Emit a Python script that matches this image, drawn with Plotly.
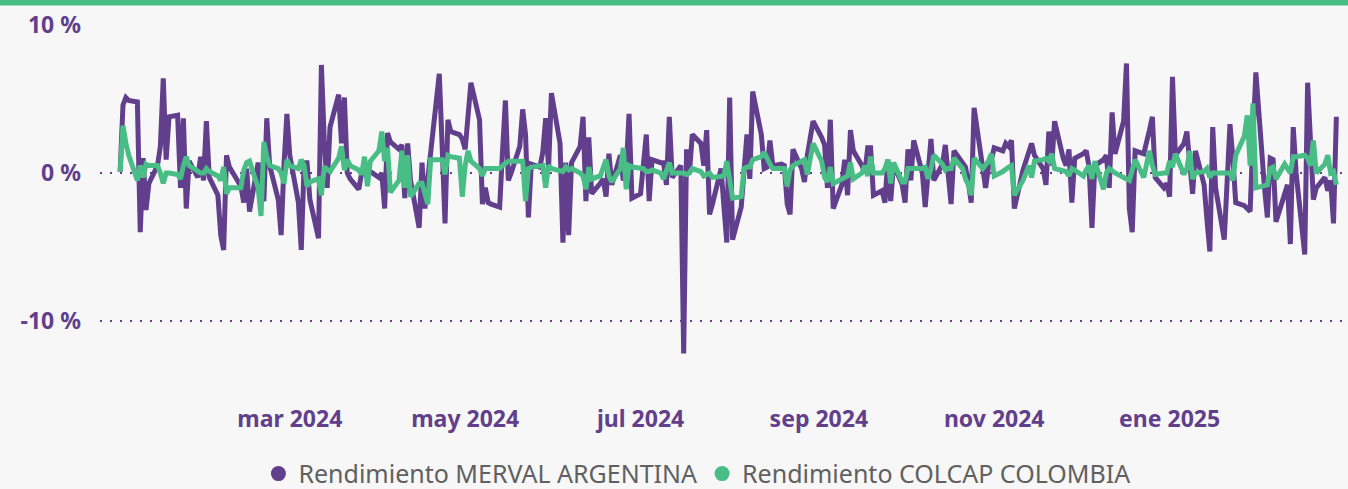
import pandas as pd
import plotly.graph_objects as go

PURPLE = "#613f8c"
GREEN = "#48bd85"
BG = "#f7f7f7"

dates = pd.bdate_range("2024-01-02", "2025-02-28")

merval = [
    0.1, 4.6, 5.1, 4.9, 4.8, -4.0, 1.0, -2.5, -0.7, 0.5,
    1.8, 6.4, 0.9, 3.8, 3.9, -1.0, 3.7, -2.4, 0.8, -0.3,
    1.1, -0.5, 3.5, -0.3, -1.5, -4.2, -5.2, 1.2, 0.4, -0.5,
    -0.9, -2.0, 0.3, -2.6, 0.7, -1.0, -1.9, 3.7, 0.5, -1.8,
    -4.2, 0.6, 4.0, 1.2, -2.0, -5.2, 0.7, 0.7, -1.8, -4.4,
    7.3, 2.2, -1.0, 3.1, 5.3, 2.0, 5.1, 0.0, -0.4, -1.1,
    0.0, 0.1, 0.2, 0.1, -0.3, 0.0, -2.4, 2.7, 2.1, 1.6,
    1.9, -1.7, 2.0, -0.5, -3.7, 0.7, -2.4, -0.4, 1.5, 6.7,
    1.8, -3.4, 3.6, 2.8, 2.6, 2.3, 1.6, 3.9, 6.1, 3.6,
    -2.1, -1.0, -2.0, -2.1, -2.3, 1.5, 4.9, -0.5, 0.0, 1.8,
    4.3, 2.6, -3.0, 0.6, 0.4, 1.4, 3.7, 0.3, 5.4, 2.0,
    -4.7, 0.7, -4.2, 0.7, 1.8, 3.8, -1.9, 2.4, -1.4, -0.7,
    -0.4, -1.6, 1.3, -0.8, 1.2, -0.5, 0.2, 4.0, -1.7, -1.4,
    0.6, 2.6, -1.9, 0.9, 0.7, 0.7, -0.8, 3.8, -0.3, 0.5,
    -12.2, 1.6, 0.0, 2.6, 2.0, 0.5, 2.9, -2.8, -2.1, 0.3,
    -2.3, -4.7, 5.1, -4.5, -2.3, 0.2, 2.6, -0.4, 5.5, 2.6,
    0.3, 0.4, 2.2, 0.5, 0.6, 0.5, -2.1, -2.8, 1.6, 0.3,
    -0.6, 1.2, 2.6, 3.5, 2.4, 1.9, -1.0, 3.6, -2.4, -0.8,
    0.9, -1.5, 2.9, 1.5, 0.5, 0.0, 1.7, 1.7, -1.5, -1.2,
    -2.0, 0.9, -1.9, 0.6, -0.8, -2.0, 1.6, -0.5, 2.2, 0.0,
    -2.3, 0.4, 2.3, -0.5, 0.6, 1.9, -0.4, -2.1, 1.5, 0.6,
    0.4, -0.6, -2.0, 4.4, 0.1, -1.0, 0.4, 0.9, 1.7, 1.5,
    2.0, 1.8, 2.2, -2.4, 0.2, 0.9, 1.4, 2.0, 1.2, 0.3,
    -0.8, 2.8, 0.5, 3.5, 1.0, 0.5, 1.6, -2.0, 1.0, 1.3,
    1.5, 0.4, -3.7, 0.5, 0.9, 1.2, -1.0, 4.1, 1.3, 3.5,
    7.4, -2.4, -4.0, 1.5, 1.3, 2.0, 2.9, 3.8, -0.3, -1.0,
    -0.7, -1.6, 6.5, 1.2, 2.0, 2.8, 0.5, -1.4, 1.5, -0.8,
    -3.2, -5.3, 3.1, -1.0, -4.5, -1.0, 3.3, 1.0, -2.0, -2.2,
    -2.4, -2.6, 2.5, 6.8, -1.0, -3.0, 1.0, 0.9, -3.3, -1.5,
    -0.8, -4.8, 3.1, 0.0, -5.5, 6.1, 1.5, -1.8, -1.0, -0.3,
    -1.2, -0.5, -3.4, 3.8,
]

colcap = [
    0.1, 3.2, 2.0, 1.2, -0.5, 0.5, -0.3, 0.6, 0.5, 0.5,
    0.0, -0.7, 0.0, 0.0, -0.1, -0.4, 0.5, 1.1, 0.5, 0.1,
    0.0, 0.0, 0.3, 0.1, -0.2, -0.5, 0.4, -1.4, -1.0, -1.0,
    -1.0, 0.2, 0.7, 0.8, -1.0, -2.9, 2.1, 1.1, 0.5, 0.3,
    0.0, -0.7, 0.9, 0.5, 0.3, 0.9, 0.5, -0.9, -0.6, -0.4,
    -1.5, 0.4, 0.2, 0.1, 1.0, 1.8, 0.2, 0.9, 0.5, 0.2,
    -0.1, 1.1, -0.9, 0.8, 1.5, 2.8, 0.8, 1.7, -1.3, -0.5,
    1.5, -1.0, 1.2, -1.6, -0.7, -0.7, -1.4, -2.1, 0.9, 0.9,
    0.9, -0.1, 1.2, 1.1, 1.0, -1.6, 0.5, 1.5, 0.8, 0.3,
    -0.2, 0.3, 0.3, 0.3, 0.3, 0.5, 0.7, 0.8, 0.8, 0.8,
    0.8, -1.9, 0.3, 0.4, 0.5, 0.5, -1.0, 0.5, 0.3, 0.2,
    0.1, 0.4, 0.2, 0.3, 0.0, -0.2, -1.1, 0.4, -0.4, -0.2,
    0.3, 0.9, -0.2, -0.6, 0.3, 1.7, -1.1, 0.5, 0.4, 0.3,
    0.3, 0.1, 0.1, 0.2, 0.0, -0.4, 0.3, 0.7, 0.0, 0.0,
    0.0, -0.1, 0.0, 0.3, 0.1, -0.2, -0.1, 0.0, -0.3, -0.2,
    -0.2, 0.8, -0.5, -1.7, -1.6, 0.3, 0.4, 0.4, 0.9, 1.1,
    1.4, 0.9, 0.6, 0.3, 0.3, 0.3, -0.9, 0.2, 0.5, 0.8,
    0.9, -0.1, 1.0, 2.0, 0.8, -0.3, -0.6, 0.4, -0.7, -0.4,
    -0.3, -0.2, 0.7, -0.4, 0.0, 0.5, -0.2, 1.1, 0.0, 0.0,
    0.3, 0.9, -0.7, 0.7, -0.6, -0.6, 0.3, 0.3, 0.3, 0.3,
    0.4, -0.4, 0.3, 1.2, 0.6, 0.2, 0.3, 0.3, 1.0, 0.3,
    -0.4, -0.8, -1.5, 1.0, 0.3, 0.5, 0.8, 1.3, -0.2, 0.1,
    0.3, 0.4, 0.5, -1.5, -0.5, 0.0, 0.5, -0.3, 0.8, 0.9,
    1.0, 0.8, 1.3, 0.3, 0.2, 0.1, -0.2, 0.3, 0.2, -0.2,
    0.2, 0.5, -0.4, 0.8, -1.1, 0.0, 0.3, 0.1, 0.0, -0.3,
    -0.4, -0.5, 0.2, 0.9, -0.3, 0.6, 1.5, 0.5, -0.1, 0.0,
    0.0, 0.8, 0.4, 1.3, -0.1, 0.3, 1.5, -0.4, 0.0, 0.1,
    0.3, -0.3, 0.0, 0.0, 0.0, 0.0, 0.0, -0.5, 1.2, 2.5,
    3.9, 0.5, 4.7, -1.0, -0.9, -0.8, 0.3, 0.4, -0.4, 0.6,
    0.3, 0.0, 1.1, 1.1, 1.2, 1.0, 0.5, 2.2, 0.0, 0.6,
    1.2, 0.0, 0.1, -0.8,
]

series_names = ["Rendimiento MERVAL ARGENTINA", "Rendimiento COLCAP COLOMBIA"]
tick_dates = ["2024-03-01", "2024-05-01", "2024-07-01", "2024-09-01", "2024-11-01", "2025-01-01"]
tick_labels = ["mar 2024", "may 2024", "jul 2024", "sep 2024", "nov 2024", "ene 2025"]
y_ticks = [-10, 0, 10]
y_labels = ["-10 %", "0 %", "10 %"]

n = min(len(dates), len(merval), len(colcap))
x = dates[:n]

fig = go.Figure()
fig.add_trace(go.Scatter(x=x, y=merval[:n], mode="lines", showlegend=False,
                         line=dict(color=PURPLE, width=5), name=series_names[0]))
fig.add_trace(go.Scatter(x=x, y=colcap[:n], mode="lines", showlegend=False,
                         line=dict(color=GREEN, width=5), name=series_names[1]))
# legend entries (circle markers)
fig.add_trace(go.Scatter(x=[None], y=[None], mode="markers", name=series_names[0],
                         marker=dict(color=PURPLE, size=15, symbol="circle")))
fig.add_trace(go.Scatter(x=[None], y=[None], mode="markers", name=series_names[1],
                         marker=dict(color=GREEN, size=15, symbol="circle")))

fig.update_layout(
    width=1348, height=489,
    paper_bgcolor=BG, plot_bgcolor=BG,
    margin=dict(l=100, r=3, t=25, b=94),
    font=dict(family="Noto Sans", color=PURPLE),
    showlegend=True,
    legend=dict(orientation="h", xref="container", x=0.517, xanchor="center",
                yref="container", y=0.031, yanchor="middle",
                font=dict(size=25, color="#606060", family="Noto Sans"),
                itemwidth=30, tracegroupgap=0, bgcolor="rgba(0,0,0,0)"),
    shapes=[dict(type="rect", xref="paper", yref="paper", x0=-0.2, x1=1.2,
                 y0=1 + 19.5 / 370, y1=1.2, fillcolor=GREEN, line=dict(width=0), layer="above")],
)

fig.update_xaxes(
    range=["2023-12-26", "2025-03-03"],
    tickvals=tick_dates, ticktext=tick_labels,
    showgrid=False, zeroline=False, showline=False,
    tickfont=dict(size=23, color=PURPLE, family="Noto Sans", weight="bold"),
    ticks="", ticklabelstandoff=8,
)
fig.update_yaxes(
    range=[-15, 10],
    tickvals=y_ticks, ticktext=y_labels,
    showgrid=True, gridcolor=PURPLE, gridwidth=2, griddash="2px,8px",
    zeroline=False, showline=False,
    tickfont=dict(size=23, color=PURPLE, family="Noto Sans", weight="bold"),
    ticks="", ticklabelstandoff=18,
)

fig.write_html("out.html", config={"displayModeBar": False},
               post_script="document.body.style.margin='0';document.body.style.background='%s';" % BG)
